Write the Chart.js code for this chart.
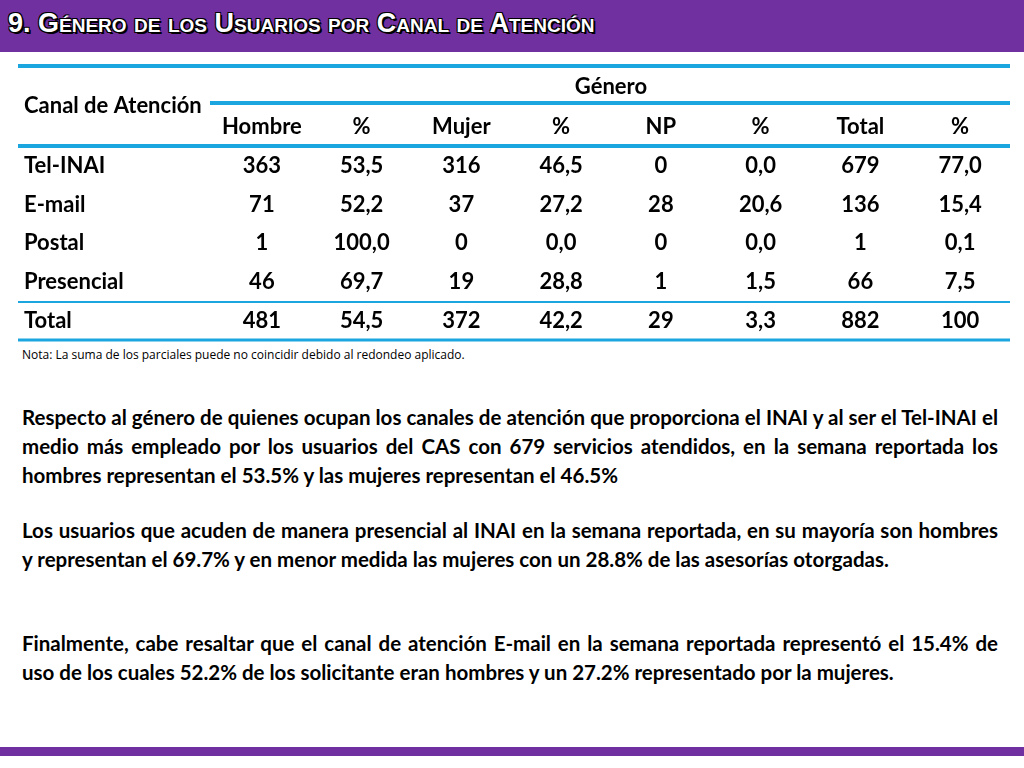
<!DOCTYPE html>
<html>
<head>
<meta charset="utf-8">
<script src="https://cdn.jsdelivr.net/npm/chart.js@4"></script>
<style>
  body { margin: 0; width: 1024px; height: 768px; background: #fff; position: relative; overflow: hidden; }
  .bar-top { position: absolute; left: 0; top: 0; width: 1024px; height: 52px; background: #7030A0; }
  .title { position: absolute; left: 8px; top: 8px; color: #fff; font: bold 27px 'Liberation Sans', Arial, sans-serif;
    font-variant: small-caps; text-shadow: 2px 2px 0 #000, -1px -1px 0 #000, 1px -1px 0 #000, -1px 1px 0 #000; }
  .bar-bot { position: absolute; left: 0; top: 747px; width: 1024px; height: 9px; background: #7030A0; }
  #wrap { position: absolute; left: 0; top: 0; width: 1024px; height: 345px; }
  .note { position: absolute; left: 22px; top: 346px; font: 12px 'Open Sans', sans-serif; color: #000; }
  .text { position: absolute; left: 22px; width: 976px; font: bold 20.5px Lato, sans-serif; line-height: 29px; text-align: justify; color: #000; }
</style>
</head>
<body>
<div class="bar-top"></div>
<div class="title">9. Género de los Usuarios por Canal de Atención</div>
<div id="wrap"><canvas id="tbl"></canvas></div>
<div class="note">Nota: La suma de los parciales puede no coincidir debido al redondeo aplicado.</div>
<div class="text" style="top:403px">Respecto al género de quienes ocupan los canales de atención que proporciona el INAI y al ser el Tel-INAI el medio más empleado por los usuarios del CAS con 679 servicios atendidos, en la semana reportada los hombres representan el 53.5% y las mujeres representan el 46.5%</div>
<div class="text" style="top:516px">Los usuarios que acuden de manera presencial al INAI en la semana reportada, en su mayoría son hombres y representan el 69.7% y en menor medida las mujeres con un 28.8% de las asesorías otorgadas.</div>
<div class="text" style="top:629px">Finalmente, cabe resaltar que el canal de atención E-mail en la semana reportada representó el 15.4% de uso de los cuales 52.2% de los solicitante eran hombres y un 27.2% representado por la mujeres.</div>
<div class="bar-bot"></div>
<script>
// Table data
const columns = ['Hombre', '%', 'Mujer', '%', 'NP', '%', 'Total', '%'];
const channels = ['Tel-INAI', 'E-mail', 'Postal', 'Presencial', 'Total'];
const hombre = ['363', '71', '1', '46', '481'];
const hombrePct = ['53,5', '52,2', '100,0', '69,7', '54,5'];
const mujer = ['316', '37', '0', '19', '372'];
const mujerPct = ['46,5', '27,2', '0,0', '28,8', '42,2'];
const np = ['0', '28', '0', '1', '29'];
const npPct = ['0,0', '20,6', '0,0', '1,5', '3,3'];
const total = ['679', '136', '1', '66', '882'];
const totalPct = ['77,0', '15,4', '0,1', '7,5', '100'];

const colValues = [hombre, hombrePct, mujer, mujerPct, np, npPct, total, totalPct];
const rowKeys = ['header'].concat(channels);
const BLUE = '#1CA6DF';
const FONT = "bold 22px Lato, sans-serif";

const tablePlugin = {
  id: 'tablePlugin',
  afterDraw(chart) {
    const ctx = chart.ctx;
    const xs = chart.scales.x, ys = chart.scales.y;
    const area = chart.chartArea;
    const left = 18, right = area.right;
    ctx.save();
    const hline = (y, x0, x1, w) => {
      ctx.fillStyle = BLUE;
      ctx.fillRect(x0, y - w / 2, x1 - x0, w);
    };
    hline(66, left, right, 4);
    hline(103, area.left - 2, right, 4);
    hline(146, left, right, 4);
    hline(302, left, right, 2);
    hline(340, left, right, 3);

    ctx.fillStyle = '#000';
    ctx.font = FONT;
    ctx.textBaseline = 'middle';
    ctx.textAlign = 'center';
    ctx.fillText('Género', (area.left + right) / 2, 87);
    ctx.textAlign = 'left';
    ctx.fillText('Canal de Atención', 24, 106);

    columns.forEach((c, i) => {
      ctx.textAlign = 'center';
      ctx.fillText(c, xs.getPixelForValue(i), ys.getPixelForValue(0));
    });
    channels.forEach((ch, r) => {
      const y = ys.getPixelForValue(r + 1);
      ctx.textAlign = 'left';
      ctx.fillText(ch, 24, y);
      ctx.textAlign = 'center';
      colValues.forEach((vals, i) => ctx.fillText(vals[r], xs.getPixelForValue(i), y));
    });
    ctx.restore();
  }
};

new Chart(document.getElementById('tbl'), {
  type: 'bar',
  data: { labels: columns.map((c, i) => c + i), datasets: [{ data: [], yAxisID: 'y' }] },
  options: {
    responsive: true,
    maintainAspectRatio: false,
    animation: false,
    layout: { padding: { left: 212, right: 14, top: 108, bottom: 5 } },
    scales: {
      x: { type: 'category', display: false, offset: true },
      y: { type: 'category', labels: rowKeys, display: false, offset: true }
    },
    plugins: { legend: { display: false }, tooltip: { enabled: false } }
  },
  plugins: [tablePlugin]
});
</script>
</body>
</html>
